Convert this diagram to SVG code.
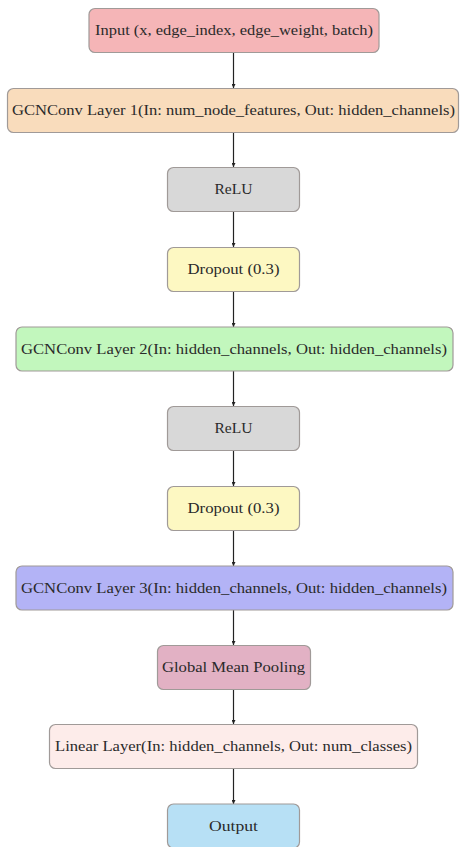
<svg xmlns="http://www.w3.org/2000/svg" width="460" height="847" viewBox="0 0 460 847">
<style>
.box{stroke:#a09a98;stroke-width:1.2}
.t{font-family:"Liberation Serif","DejaVu Serif",serif;font-size:14px;fill:#2a2a2a;text-anchor:middle}
.c{stroke:#222;stroke-width:1.2;fill:none;marker-end:url(#ah)}
</style>
<defs>
<marker id="ah" viewBox="0 0 6 6" refX="6" refY="3" markerWidth="4" markerHeight="4" markerUnits="userSpaceOnUse" orient="auto"><path d="M0,0 L6,3 L0,6 z" fill="#222"/></marker>
</defs>
<rect width="460" height="847" fill="#ffffff"/>
<g id="connectors">
<line class="c" x1="233.5" y1="52" x2="233.5" y2="88"/>
<line class="c" x1="233.5" y1="133" x2="233.5" y2="167"/>
<line class="c" x1="233.5" y1="212" x2="233.5" y2="247"/>
<line class="c" x1="233.5" y1="291" x2="233.5" y2="327"/>
<line class="c" x1="233.5" y1="371" x2="233.5" y2="406"/>
<line class="c" x1="233.5" y1="451" x2="233.5" y2="486"/>
<line class="c" x1="233.5" y1="530" x2="233.5" y2="566"/>
<line class="c" x1="233.5" y1="609" x2="233.5" y2="645"/>
<line class="c" x1="233.5" y1="689" x2="233.5" y2="724"/>
<line class="c" x1="233.5" y1="768" x2="233.5" y2="804"/>
</g>
<g id="input"><rect class="box" x="89" y="8.5" width="290" height="44" rx="6" fill="#f5b5b7"/><text class="t" x="234" y="35" textLength="278" lengthAdjust="spacingAndGlyphs">Input (x, edge_index, edge_weight, batch)</text></g>
<g id="gcn1"><rect class="box" x="7.5" y="88.5" width="451" height="44" rx="6" fill="#f9dcbc"/><text class="t" x="233.5" y="115" textLength="443" lengthAdjust="spacingAndGlyphs">GCNConv Layer 1(In: num_node_features, Out: hidden_channels)</text></g>
<g id="relu1"><rect class="box" x="167.5" y="167.5" width="132" height="44" rx="6" fill="#d8d8d8"/><text class="t" x="233.5" y="194" textLength="38" lengthAdjust="spacingAndGlyphs">ReLU</text></g>
<g id="dropout1"><rect class="box" x="167.5" y="247.5" width="132" height="44" rx="6" fill="#fdf8c2"/><text class="t" x="233.5" y="274" textLength="92" lengthAdjust="spacingAndGlyphs">Dropout (0.3)</text></g>
<g id="gcn2"><rect class="box" x="16" y="327" width="437" height="44" rx="6" fill="#c2f7bd"/><text class="t" x="234" y="354" textLength="426" lengthAdjust="spacingAndGlyphs">GCNConv Layer 2(In: hidden_channels, Out: hidden_channels)</text></g>
<g id="relu2"><rect class="box" x="167.5" y="406.5" width="132" height="44" rx="6" fill="#d8d8d8"/><text class="t" x="233.5" y="433" textLength="38" lengthAdjust="spacingAndGlyphs">ReLU</text></g>
<g id="dropout2"><rect class="box" x="167.5" y="486.5" width="132" height="44" rx="6" fill="#fdf8c2"/><text class="t" x="233.5" y="513" textLength="92" lengthAdjust="spacingAndGlyphs">Dropout (0.3)</text></g>
<g id="gcn3"><rect class="box" x="16" y="566" width="437" height="44" rx="6" fill="#b3b3f6"/><text class="t" x="234" y="593" textLength="426" lengthAdjust="spacingAndGlyphs">GCNConv Layer 3(In: hidden_channels, Out: hidden_channels)</text></g>
<g id="pool"><rect class="box" x="157.5" y="645.5" width="153" height="44" rx="6" fill="#e2b1c4"/><text class="t" x="233.5" y="672" textLength="143" lengthAdjust="spacingAndGlyphs">Global Mean Pooling</text></g>
<g id="linear"><rect class="box" x="49.5" y="724.5" width="368" height="44" rx="6" fill="#fdecea"/><text class="t" x="233.5" y="751" textLength="357" lengthAdjust="spacingAndGlyphs">Linear Layer(In: hidden_channels, Out: num_classes)</text></g>
<g id="output"><rect class="box" x="167.5" y="804" width="132" height="44" rx="6" fill="#b7e0f5"/><text class="t" x="233.5" y="831" textLength="49" lengthAdjust="spacingAndGlyphs">Output</text></g>
</svg>
